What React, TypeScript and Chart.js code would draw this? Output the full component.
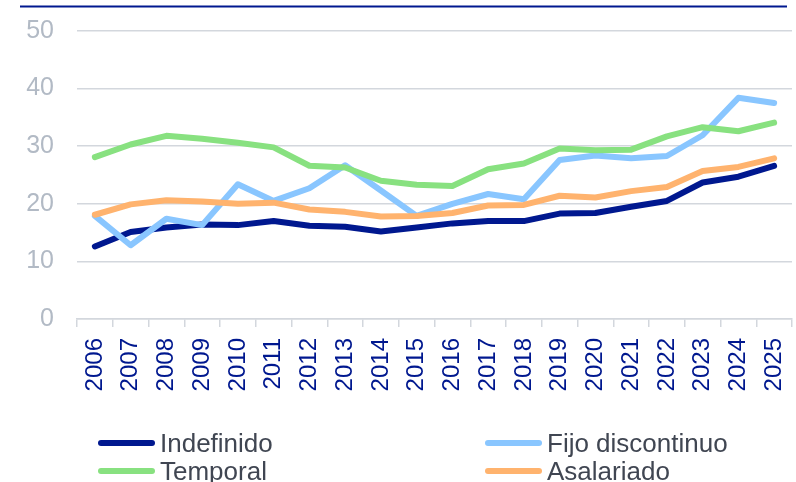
import React, { useEffect, useRef } from "react";
import { Chart, registerables } from "chart.js";

Chart.register(...registerables);

const years = ["2006","2007","2008","2009","2010","2011","2012","2013","2014","2015","2016","2017","2018","2019","2020","2021","2022","2023","2024","2025"];
const indefinido = [12.6, 15.1, 15.9, 16.4, 16.3, 17.0, 16.2, 16.0, 15.2, 15.9, 16.6, 17.0, 17.0, 18.3, 18.4, 19.5, 20.5, 23.7, 24.7, 26.6];
const fijoDiscontinuo = [17.9, 12.8, 17.4, 16.3, 23.4, 20.5, 22.7, 26.7, 22.3, 17.9, 20.0, 21.7, 20.8, 27.6, 28.4, 27.9, 28.3, 31.9, 38.4, 37.5];
const temporal = [28.1, 30.3, 31.8, 31.3, 30.6, 29.8, 26.6, 26.3, 24.0, 23.3, 23.1, 26.0, 27.0, 29.6, 29.3, 29.4, 31.7, 33.3, 32.6, 34.1];
const asalariado = [18.1, 19.9, 20.6, 20.4, 20.0, 20.2, 19.0, 18.6, 17.8, 17.9, 18.4, 19.7, 19.8, 21.4, 21.1, 22.2, 22.9, 25.7, 26.4, 27.9];
const seriesNames = ["Indefinido", "Fijo discontinuo", "Temporal", "Asalariado"];
const seriesColors = ["#00188F", "#89C6FF", "#88E180", "#FFB36E"];
const yTicks = [0, 10, 20, 30, 40, 50];

const FONT = "'Liberation Sans', Arial, sans-serif";

const topLinePlugin = {
  id: "topLine",
  afterDraw(chart: any) {
    const ctx = chart.ctx;
    ctx.save();
    ctx.strokeStyle = "#00188F";
    ctx.lineWidth = 2;
    ctx.beginPath();
    ctx.moveTo(20, 6.5);
    ctx.lineTo(787, 6.5);
    ctx.stroke();
    ctx.restore();
  },
};

export default function App() {
  const ref = useRef<HTMLCanvasElement | null>(null);

  useEffect(() => {
    if (!ref.current) return;
    const data = [indefinido, fijoDiscontinuo, temporal, asalariado];
    const chart = new Chart(ref.current, {
      type: "line",
      data: {
        labels: years,
        datasets: data.map((d, i) => ({
          label: seriesNames[i],
          data: d,
          borderColor: seriesColors[i],
          backgroundColor: seriesColors[i],
          borderWidth: 6,
          pointRadius: 0,
          tension: 0,
          borderCapStyle: "round" as const,
          borderJoinStyle: "round" as const,
          order: 4 - i,
        })),
      },
      options: {
        animation: false,
        responsive: false,
        maintainAspectRatio: false,
        layout: { padding: { left: 0, right: 4, top: 31, bottom: 0 } },
        plugins: {
          legend: { display: false },
          tooltip: { enabled: false },
        },
        scales: {
          x: {
            type: "category",
            offset: true,
            afterFit(scale: any) {
              scale.height = 163;
              scale.paddingLeft = 0;
              scale.paddingRight = 0;
            },
            grid: {
              display: true,
              offset: true,
              drawOnChartArea: false,
              drawTicks: true,
              tickLength: 8,
              color: "#D3D7DD",
              lineWidth: 1.5,
            },
            border: { display: true, color: "#D3D7DD", width: 1.5 },
            ticks: {
              color: "#00188F",
              minRotation: 90,
              maxRotation: 90,
              autoSkip: false,
              padding: 11,
              font: { family: FONT, size: 24 },
            },
          },
          y: {
            min: 0,
            max: 50,
            afterFit(scale: any) {
              scale.width = 77;
              scale.paddingTop = 0;
              scale.paddingBottom = 0;
            },
            afterBuildTicks(scale: any) {
              scale.ticks = yTicks.map((v) => ({ value: v }));
            },
            grid: {
              color: "#D3D7DD",
              lineWidth: 1.5,
              drawTicks: false,
            },
            border: { display: false },
            ticks: {
              color: "#B2BAC5",
              padding: 23,
              font: { family: FONT, size: 25 },
            },
          },
        },
      },
      plugins: [topLinePlugin],
    });
    return () => chart.destroy();
  }, []);

  const legendPos = [
    { x: 98, y: 443 },
    { x: 485, y: 443 },
    { x: 98, y: 471 },
    { x: 485, y: 471 },
  ];

  return (
    <div style={{ position: "fixed", left: 0, top: 0, width: 796, height: 482, background: "#fff", overflow: "hidden" }}>
      <canvas ref={ref} width={796} height={482} style={{ position: "absolute", left: 0, top: 0, width: 796, height: 482 }} />
      {seriesNames.map((name, i) => (
        <div
          key={name}
          style={{
            position: "absolute",
            left: legendPos[i].x,
            top: legendPos[i].y - 15,
            height: 30,
            display: "flex",
            alignItems: "center",
            fontFamily: FONT,
            fontSize: 26,
            color: "#404652",
            whiteSpace: "nowrap",
          }}
        >
          <span style={{ display: "inline-block", width: 57, height: 6, borderRadius: 3, background: seriesColors[i], marginRight: 5 }} />
          <span>{name}</span>
        </div>
      ))}
    </div>
  );
}
